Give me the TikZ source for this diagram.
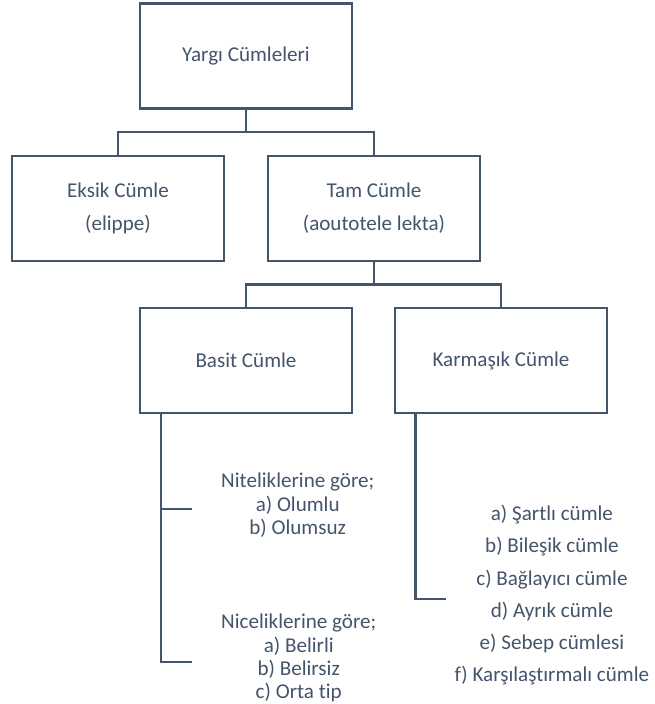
\documentclass[tikz,border=0pt]{standalone}
\usepackage{fontspec}
\setmainfont{Carlito}[Ligatures={NoCommon}]
\usepackage{tikz}
\usetikzlibrary{calc,positioning}
\definecolor{slate}{HTML}{44546A}
\tikzset{
    cumle/.style={rectangle, draw=slate, line width=1.3pt, text=slate, minimum width=4.24cm, minimum height=2.1cm, align=center, font=\fontsize{12}{18.7}\selectfont},
    nitlist/.style={text=slate, align=center, inner sep=0pt, yshift=0.08cm, font=\fontsize{12}{13.3}\selectfont},
    karlist/.style={text=slate, align=center, inner sep=0pt, yshift=0.08cm, font=\fontsize{12}{18.3}\selectfont},
    line/.style={draw=slate, line width=1.3pt}
}
\begin{document}
\begin{tikzpicture}
    \useasboundingbox (0,0) rectangle (13.1,-14.08);

    \node[cumle] (yargi) at (4.92,-1.12) {Yargı Cümleleri};

    \node[cumle, below=0.9cm of yargi, xshift=-2.56cm] (eksik) {Eksik Cümle\\(elippe)};
    \node[cumle, below=0.9cm of yargi, xshift=2.56cm] (tam) {Tam Cümle\\(aoutotele lekta)};

    \node[cumle, below=0.9cm of tam, xshift=-2.56cm] (basit) {Basit Cümle};
    \node[cumle, below=0.9cm of tam, xshift=2.54cm] (karmasik) {Karmaşık Cümle};

    \coordinate (basitalt) at ($(basit.south west)+(0.44,0)$);
    \coordinate (nitel) at ($(basitalt)+(0.62,-1.9)$);
    \coordinate (nicel) at ($(basitalt)+(0.62,-4.96)$);
    \coordinate (karmalt) at ($(karmasik.south west)+(0.43,0)$);
    \coordinate (tur) at ($(karmalt)+(0.62,-3.7)$);

    \node[nitlist, right=0.58cm of nitel] (nitelmetin) {Niteliklerine göre;\\a) Olumlu\\b) Olumsuz};
    \node[nitlist, right=0.58cm of nicel] (nicelmetin) {Niceliklerine göre;\\a) Belirli\\b) Belirsiz\\c) Orta tip};
    \node[karlist, right=0.16cm of tur] (turmetin) {a) Şartlı cümle\\b) Bileşik cümle\\c) Bağlayıcı cümle\\d) Ayrık cümle\\e) Sebep cümlesi\\f) Karşılaştırmalı cümle};

    \begin{scope} [every path/.style=line]
      \path (yargi.south) -- ++(0,-0.45) -| (eksik.north);
      \path (yargi.south) -- ++(0,-0.45) -| (tam.north);
      \path (tam.south) -- ++(0,-0.45) -| (basit.north);
      \path (tam.south) -- ++(0,-0.45) -| (karmasik.north);

      \path (basitalt) |- (nicel);
      \path (basitalt |- nitel) -- (nitel);
      \path (karmalt) |- (tur);
    \end{scope}
\end{tikzpicture}
\end{document}
